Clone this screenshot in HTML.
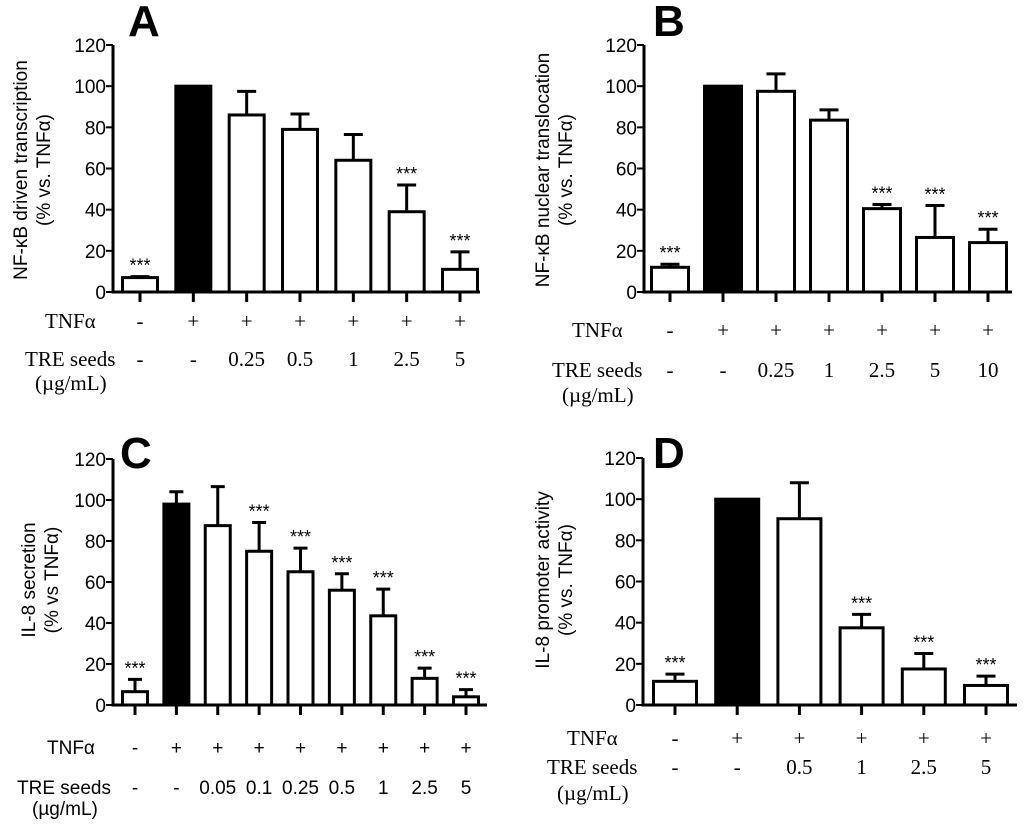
<!DOCTYPE html>
<html><head><meta charset="utf-8"><style>
html,body{margin:0;padding:0;background:#fff}
svg{display:block}
text{fill:#000}
</style></head><body>
<svg id="fig" width="1024" height="828" xmlns="http://www.w3.org/2000/svg"></svg>
<script>
// Panel A data
const catsA_TNF = ["-","+","+","+","+","+","+"];
const catsA_TRE = ["-","-","0.25","0.5","1","2.5","5"];
const valsA = [7,100,86,79,64,39,11];
const errTopA = [7.5,null,97.5,86.5,76.5,52,19.5];
const sigA = [1,0,0,0,0,1,1];
// Panel B data
const catsB_TNF = ["-","+","+","+","+","+","+"];
const catsB_TRE = ["-","-","0.25","1","2.5","5","10"];
const valsB = [12,100,97.5,83.5,40.5,26.5,24];
const errTopB = [13.5,null,106,88.5,42.5,42,30.5];
const sigB = [1,0,0,0,1,1,1];
// Panel C data
const catsC_TNF = ["-","+","+","+","+","+","+","+","+"];
const catsC_TRE = ["-","-","0.05","0.1","0.25","0.5","1","2.5","5"];
const valsC = [6.5,98,87.5,75,65,56,43.5,13,4];
const errTopC = [12.5,104,106.5,89,76.5,64,56.5,18,7.5];
const sigC = [1,0,0,1,1,1,1,1,1];
// Panel D data
const catsD_TNF = ["-","+","+","+","+","+"];
const catsD_TRE = ["-","-","0.5","1","2.5","5"];
const valsD = [11.5,100,90.5,37.5,17.5,9.5];
const errTopD = [15,null,108,44,25,14];
const sigD = [1,0,0,1,1,1];
const yTicks = [0,20,40,60,80,100,120];

const svg = document.getElementById('fig');
const NS = 'http://www.w3.org/2000/svg';
function mk(tag, attrs, parent, text){
  const e = document.createElementNS(NS, tag);
  for (const k in attrs) e.setAttribute(k, attrs[k]);
  if (text !== undefined) e.textContent = text;
  (parent||svg).appendChild(e);
  return e;
}
const SANS = '"Liberation Sans", Arial, sans-serif';
const SERIF = '"Liberation Serif", "DejaVu Serif", serif';

function panel(p){
  const g = mk('g', {});
  
  
  const y = v => p.y0 - (p.y0 - p.y120) * v / 120;
  const x0 = p.ax, x1 = p.xEnd;
  const n = p.vals.length;
  const cx = i => p.c0 + (p.cN - p.c0) * i / (n - 1);
  const fs = p.fs;
  const t = mk('text', {x:p.tx, y:p.ty, 'font-family':SANS, 'font-size':44, 'font-weight':'bold'}, g, p.id);
  
  
  const yt = mk('text', {transform:`translate(${p.ytx},${p.yty}) rotate(-90)`, 'font-family':SANS, 'font-size':19, 'text-anchor':'middle'}, g);
  
  
  mk('tspan', {x:0, y:0}, yt, p.yl1);
  mk('tspan', {x:0, y:23}, yt, p.yl2);
  for (let i = 0; i < n; i++){
    const w = p.bw, bx = cx(i) - w/2, top = y(p.vals[i]);
    if (p.errs[i] !== null){
      const et = y(p.errs[i]);
      const el = mk('path', {d:`M${cx(i)},${top} V${et} M${cx(i)-p.cap/2},${et} H${cx(i)+p.cap/2}`, stroke:'#000', 'stroke-width':3, fill:'none'}, g);
      
      
    }
    const r = mk('rect', {x:bx, y:top, width:w, height:p.y0 - top, fill: i === 1 ? '#000' : '#fff', stroke:'#000', 'stroke-width':3}, g);
    
    
    if (p.sig[i]){
      const st = p.errs[i] !== null ? y(p.errs[i]) : top;
      const s = mk('text', {x:cx(i), y:st - 5, 'font-family':SANS, 'font-size':18, 'text-anchor':'middle'}, g, '***');
      
      
    }
    const tk = mk('line', {x1:cx(i), x2:cx(i), y1:p.y0, y2:p.y0 + 10, stroke:'#000', 'stroke-width':3}, g);
    
    
    const a = mk('text', {x:cx(i), y:p.r1, 'font-family':p.font, 'font-size':fs, 'text-anchor':'middle'}, g, p.tnf[i]);
    
    
    const b = mk('text', {x:cx(i), y:p.r2, 'font-family':p.font, 'font-size':fs, 'text-anchor':'middle'}, g, p.tre[i]);
    
    
  }
  const ax = mk('path', {d:`M${x0},${p.y120} V${p.y0} H${x1}`, stroke:'#000', 'stroke-width':3, fill:'none'}, g);
  
  
  yTicks.forEach(v => {
    const l = mk('line', {x1:x0 - 7, x2:x0, y1:y(v), y2:y(v), stroke:'#000', 'stroke-width':2}, g);
    
    
    const tl = mk('text', {x:x0 - 7, y:y(v) + 7, 'font-family':SANS, 'font-size':19, 'text-anchor':'end'}, g, String(v));
    
    
  });
  const l1 = mk('text', {x:p.lx1, y:p.r1, 'font-family':p.font, 'font-size':fs}, g, 'TNFα');
  
  
  const l2 = mk('text', {x:p.lx2, y:p.r2, 'font-family':p.font, 'font-size':fs}, g, 'TRE seeds');
  
  
  const l3 = mk('text', {x:p.lx3, y:p.r3, 'font-family':p.font, 'font-size':fs}, g, '(µg/mL)');
  
  
}

panel({id:'A', ax:113, y0:292, y120:45, xEnd:480, c0:140, cN:460, bw:35, cap:19,
  vals:valsA, errs:errTopA, sig:sigA, tnf:catsA_TNF, tre:catsA_TRE, font:SERIF, fs:21,
  r1:328, r2:366, r3:390, lx1:45, lx2:25, lx3:35, tx:128, ty:36,
  ytx:27, yty:170, yl1:'NF-κB driven transcription', yl2:'(% vs. TNFα)'});
panel({id:'B', ax:644, y0:292, y120:45, xEnd:1012, c0:670, cN:988, bw:37, cap:19,
  vals:valsB, errs:errTopB, sig:sigB, tnf:catsB_TNF, tre:catsB_TRE, font:SERIF, fs:21,
  r1:337, r2:377, r3:402, lx1:572, lx2:552, lx3:562, tx:653, ty:36,
  ytx:549, yty:170, yl1:'NF-κB nuclear translocation', yl2:'(% vs. TNFα)'});
panel({id:'C', ax:113, y0:705, y120:459, xEnd:487, c0:135, cN:466, bw:25, cap:14,
  vals:valsC, errs:errTopC, sig:sigC, tnf:catsC_TNF, tre:catsC_TRE, font:SANS, fs:19,
  r1:754, r2:794, r3:815, lx1:47, lx2:17, lx3:32, tx:120, ty:468,
  ytx:35, yty:580, yl1:'IL-8 secretion', yl2:'(% vs TNFα)'});
panel({id:'D', ax:643, y0:705, y120:458, xEnd:1017, c0:675, cN:986, bw:43, cap:19,
  vals:valsD, errs:errTopD, sig:sigD, tnf:catsD_TNF, tre:catsD_TRE, font:SERIF, fs:21,
  r1:745, r2:774, r3:800, lx1:567, lx2:547, lx3:557, tx:653, ty:468,
  ytx:549, yty:580, yl1:'IL-8 promoter activity', yl2:'(% vs. TNFα)'});
</script>
</body></html>
